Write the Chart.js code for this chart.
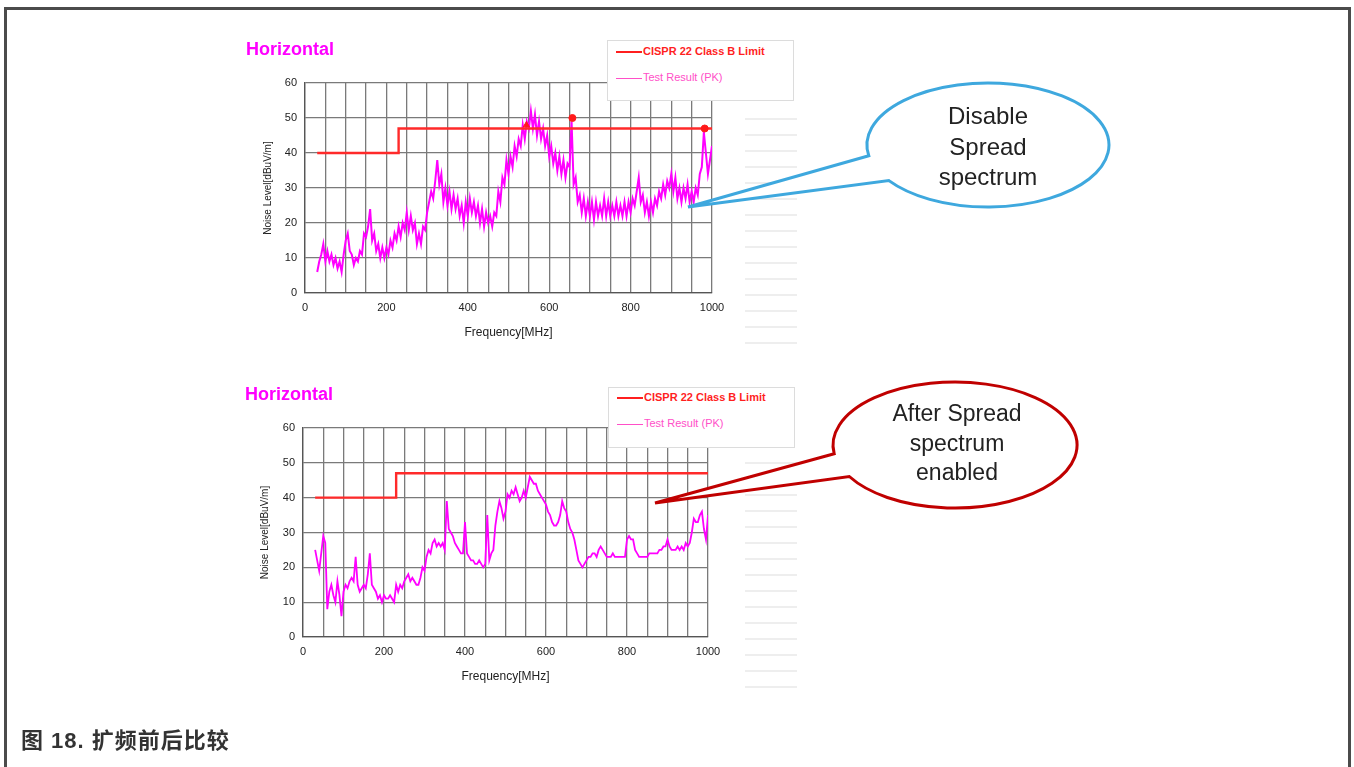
<!DOCTYPE html>
<html>
<head>
<meta charset="utf-8">
<script src="https://cdn.jsdelivr.net/npm/chart.js@4.4.1/dist/chart.umd.min.js"></script>
<style>
  body { margin: 0; background: #fff; width: 1354px; height: 767px; overflow: hidden; position: relative; font-family: "Liberation Sans", Arial, sans-serif; }
  .frame { position: absolute; left: 4px; top: 7px; width: 1347px; height: 820px; border: 3px solid #4b4b4b; box-sizing: border-box; }
  canvas { position: absolute; }
  .title { position: absolute; font-weight: bold; font-size: 18px; color: #ff00ff; }
  .legend { position: absolute; width: 185px; height: 59px; border: 1px solid #dcdcdc; background: #fff; font-size: 11px; }
  .legend .row { position: absolute; left: 8px; height: 13px; line-height: 13px; white-space: nowrap; }
  .legend .swatch { display: inline-block; width: 26px; height: 0; vertical-align: middle; margin-right: 1px; }
  .cells { position: absolute; background: repeating-linear-gradient(to bottom, transparent 0 14px, #eeeeee 14px 16px); }
  .caption { position: absolute; left: 21px; top: 729px; line-height: 24px; font-family: "Liberation Sans", "Noto Sans CJK SC", sans-serif; font-weight: bold; font-size: 22px; letter-spacing: 1px; color: #333; }
  svg { position: absolute; left: 0; top: 0; }
</style>
</head>
<body>
<div class="frame"></div>

<div class="cells" style="left:745px; top:104px; width:52px; height:252px;"></div>
<div class="cells" style="left:745px; top:448px; width:52px; height:250px;"></div>

<canvas id="chartDisabled" width="559" height="323" style="left:238px; top:32px;"></canvas>
<canvas id="chartEnabled" width="559" height="322" style="left:238px; top:378px;"></canvas>

<div class="title" style="left:246px; top:39px;">Horizontal</div>
<div class="title" style="left:245px; top:384px;">Horizontal</div>

<div class="legend" style="left:607px; top:40px;">
  <div class="row" style="top:4px; color:#ff1f1f; font-weight:bold;"><span class="swatch" style="border-top:2px solid #ff1f1f;"></span>CISPR 22 Class B Limit</div>
  <div class="row" style="top:30px; color:#ff4fc8;"><span class="swatch" style="border-top:1px solid #ff4fc8;"></span>Test Result (PK)</div>
</div>
<div class="legend" style="left:608px; top:387px;">
  <div class="row" style="top:3px; color:#ff1f1f; font-weight:bold;"><span class="swatch" style="border-top:2px solid #ff1f1f;"></span>CISPR 22 Class B Limit</div>
  <div class="row" style="top:29px; color:#ff4fc8;"><span class="swatch" style="border-top:1px solid #ff4fc8;"></span>Test Result (PK)</div>
</div>

<svg width="1354" height="767">
  <path d="M 868.8 155.8 L 688 207 L 888.9 180.6 A 121 62 0 1 0 868.8 155.8 Z" fill="#fff" stroke="#3ea8de" stroke-width="3" stroke-linejoin="miter"/>
  <g font-family="Liberation Sans, Arial, sans-serif" font-size="24" fill="#222" text-anchor="middle">
    <text x="988" y="124">Disable</text>
    <text x="988" y="155">Spread</text>
    <text x="988" y="185">spectrum</text>
  </g>
  <path d="M 834.2 453.8 L 655 503 L 849.3 476.5 A 122 63 0 1 0 834.2 453.8 Z" fill="#fff" stroke="#c00000" stroke-width="3" stroke-linejoin="miter"/>
  <g font-family="Liberation Sans, Arial, sans-serif" font-size="23" fill="#222" text-anchor="middle">
    <text x="957" y="421">After Spread</text>
    <text x="957" y="451">spectrum</text>
    <text x="957" y="480">enabled</text>
  </g>
</svg>

<div class="caption">图 18. 扩频前后比较</div>

<script>
// sweep: 30 MHz .. 1000 MHz, one reading every 5 MHz
const freqStart = 30
const freqStep = 5

// CISPR 22 class B limit (step at 230 MHz)
const limitFreq = [30, 230, 230, 1000]
const limitLevel = [40, 40, 47, 47]

// spread spectrum disabled, dBuV/m
const levelsDisabled = [
  6, 9, 11, 14, 9, 12, 9, 11, 8, 10,
  7, 9, 6, 11, 15, 17, 12, 11, 8, 10,
  9, 12, 11, 17, 16, 19, 24, 15, 17, 12,
  14, 10, 13, 10, 13, 11, 15, 13, 17, 15,
  19, 16, 20, 18, 23, 18, 22, 18, 20, 14,
  17, 14, 19, 18, 23, 26, 29, 27, 32, 38,
  31, 34, 26, 30, 25, 29, 24, 28, 24, 27,
  22, 25, 20, 26, 22, 27, 23, 26, 22, 25,
  20, 24, 19, 23, 20, 22, 19, 23, 22, 29,
  26, 33, 31, 38, 34, 39, 36, 42, 39, 44,
  42, 48, 44, 49, 47, 52, 47, 51, 45, 49,
  44, 47, 42, 45, 39, 42, 37, 40, 35, 39,
  34, 38, 33, 37, 36, 49, 31, 33, 26, 28,
  23, 27, 22, 26, 22, 26, 21, 26, 22, 25,
  22, 27, 22, 26, 22, 25, 22, 26, 22, 25,
  22, 26, 22, 26, 23, 27, 25, 29, 33, 26,
  28, 23, 26, 22, 26, 23, 27, 25, 29, 27,
  31, 28, 32, 30, 34, 29, 33, 27, 30, 26,
  30, 27, 31, 26, 29, 26, 30, 28, 34, 36,
  46, 40, 34, 38, 42,
]

// spread spectrum enabled, dBuV/m
const levelsEnabled = [
  25, 22, 19, 24, 29, 27, 8, 13, 15, 12,
  10, 16, 12, 6, 13, 15, 14, 16, 17, 16,
  23, 15, 13, 14, 15, 14, 18, 24, 15, 14,
  13, 11, 12, 10, 12, 11, 11, 12, 11, 10,
  15, 13, 15, 14, 16, 17, 18, 16, 17, 16,
  15, 15, 17, 20, 19, 23, 25, 24, 27, 28,
  26, 27, 26, 27, 25, 39, 31, 30, 29, 27,
  26, 25, 24, 24, 33, 24, 23, 22, 22, 21,
  21, 22, 21, 20, 21, 35, 22, 24, 25, 32,
  36, 39, 37, 34, 36, 41, 40, 42, 41, 43,
  41, 39, 40, 42, 40, 43, 46, 45, 44, 44,
  42, 41, 40, 39, 38, 36, 35, 33, 32, 32,
  33, 35, 39, 37, 36, 33, 31, 30, 28, 25,
  22, 21, 20, 21, 22, 23, 23, 24, 24, 23,
  25, 26, 25, 24, 23, 23, 23, 24, 23, 23,
  23, 23, 23, 23, 28, 29, 28, 28, 25, 24,
  23, 23, 23, 23, 23, 24, 24, 24, 24, 24,
  25, 25, 26, 26, 28, 26, 25, 25, 25, 26,
  25, 26, 25, 27, 26, 27, 30, 34, 33, 33,
  35, 36, 31, 28, 35,
]

// peak markers on the first plot
const peakFreq = [544, 657, 982]
const peakLevel = [48, 50, 47]
const peakStyle = ['triangle', 'circle', 'circle']

Chart.defaults.font.family = '"Liberation Sans", Arial, sans-serif'
Chart.defaults.color = '#222'

function toPoints(xs, ys) {
  return xs.map((x, i) => ({ x: x, y: ys[i] }))
}

function drawSpectrum(id, levels, peaks, box) {
  const ctx = document.getElementById(id).getContext('2d')
  const sweepFreq = levels.map((v, i) => freqStart + i * freqStep)

  const datasets = [
    {
      label: 'CISPR 22 Class B Limit',
      data: toPoints(limitFreq, limitLevel),
      borderColor: '#ff2a2a',
      borderWidth: 2.4,
      pointRadius: 0,
      order: 1,
    },
    {
      label: 'Test Result (PK)',
      data: toPoints(sweepFreq, levels),
      borderColor: '#ff00ff',
      borderWidth: box.lineWidth,
      pointRadius: 0,
      order: 2,
    },
  ]
  if (peaks) {
    datasets.push({
      label: 'peaks',
      data: toPoints(peaks.freq, peaks.level),
      showLine: false,
      pointRadius: 3.5,
      pointStyle: peaks.style,
      backgroundColor: '#ff1a1a',
      borderColor: '#ff1a1a',
      order: 0,
    })
  }

  new Chart(ctx, {
    type: 'line',
    data: { datasets: datasets },
    options: {
      responsive: false,
      animation: false,
      devicePixelRatio: 1,
      layout: { padding: { left: 0, top: box.padTop, right: box.padRight, bottom: 0 } },
      plugins: { legend: { display: false }, tooltip: { enabled: false } },
      scales: {
        x: {
          type: 'linear',
          min: 0,
          max: 1000,
          ticks: {
            stepSize: 50,
            autoSkip: false,
            maxRotation: 0,
            padding: 8,
            font: { size: 11 },
            callback: (v) => (v % 200 === 0 ? v : ''),
          },
          grid: { color: '#7a7a7a', lineWidth: 1.3, drawTicks: false },
          border: { color: '#555', width: 1.3 },
          title: { display: true, text: 'Frequency[MHz]', font: { size: 12 }, padding: { top: 0, bottom: box.xTitlePad } },
          afterFit: (s) => { s.height = box.xAxisH },
        },
        y: {
          min: 0,
          max: 60,
          ticks: { stepSize: 10, padding: 8, font: { size: 11 } },
          grid: { color: '#7a7a7a', lineWidth: 1.3, drawTicks: false },
          border: { color: '#555', width: 1.3 },
          title: { display: true, text: 'Noise Level[dBuV/m]', font: { size: 10 }, padding: { top: box.yTitlePad, bottom: 0 } },
          afterFit: (s) => { s.width = box.yAxisW },
        },
      },
    },
  })
}

drawSpectrum('chartDisabled', levelsDisabled,
  { freq: peakFreq, level: peakLevel, style: peakStyle },
  { padTop: 51, padRight: 85, yAxisW: 67, xAxisH: 62, xTitlePad: 15, yTitlePad: 24, lineWidth: 2 })

drawSpectrum('chartEnabled', levelsEnabled, null,
  { padTop: 50, padRight: 89, yAxisW: 65, xAxisH: 63, xTitlePad: 16, yTitlePad: 21, lineWidth: 1.8 })
</script>
</body>
</html>
